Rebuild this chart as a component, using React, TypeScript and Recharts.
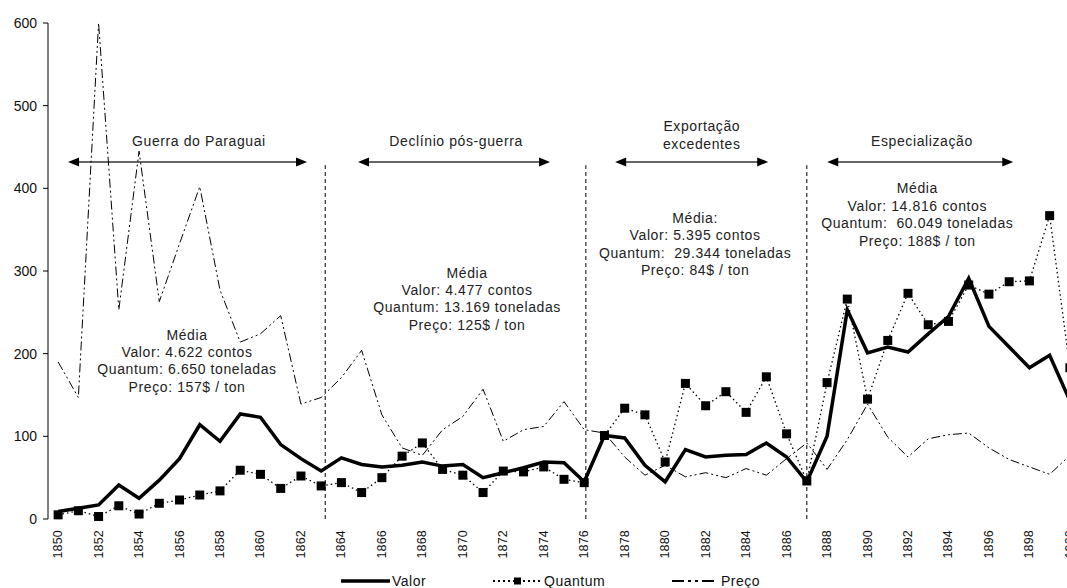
import React from "react";
import { LineChart, Line, XAxis, YAxis, ReferenceLine, ReferenceDot } from "recharts";

const FONT = '"Liberation Sans", Arial, Helvetica, sans-serif';

const years = [
  1850, 1851, 1852, 1853, 1854, 1855, 1856, 1857, 1858, 1859,
  1860, 1861, 1862, 1863, 1864, 1865, 1866, 1867, 1868, 1869,
  1870, 1871, 1872, 1873, 1874, 1875, 1876, 1877, 1878, 1879,
  1880, 1881, 1882, 1883, 1884, 1885, 1886, 1887, 1888, 1889,
  1890, 1891, 1892, 1893, 1894, 1895, 1896, 1897, 1898, 1899,
  1900,
];

const valor = [
  9, 13, 17, 41, 25, 47, 73, 114, 94, 127,
  123, 90, 73, 58, 74, 66, 63, 65, 69, 64,
  66, 50, 56, 62, 69, 68, 45, 101, 98, 65,
  45, 84, 75, 77, 78, 92, 75, 45, 100, 253,
  201, 208, 202, 224, 245, 291, 233, 208, 183, 198,
  143,
];

const quantum = [
  5, 10, 3, 16, 6, 19, 23, 29, 34, 59,
  54, 37, 52, 40, 44, 32, 50, 76, 92, 60,
  53, 32, 58, 57, 63, 48, 44, 101, 134, 126,
  69, 164, 137, 154, 129, 172, 103, 46, 165, 266,
  145, 216, 273, 235, 239, 283, 272, 287, 288, 367,
  183,
];

const preco = [
  190, 147, 600, 253, 445, 263, 333, 402, 277, 214,
  224, 246, 139, 147, 171, 204, 126, 86, 77, 108,
  124, 157, 94, 108, 112, 142, 108, 104, 75, 53,
  65, 51, 56, 50, 61, 53, 73, 92, 60, 96,
  139, 99, 75, 97, 102, 104, 86, 72, 63, 54,
  77,
];

const yTicks = [0, 100, 200, 300, 400, 500, 600];
const labelYears = years.filter((y) => y % 2 === 0);
const tickEdges = [...years.map((y) => y - 0.5), years[years.length - 1] + 0.5];

// period boundaries (year), drawn up to this value
const dividers = [1863.2, 1876.08, 1887];
const dividerTop = 428;

// period arrows and titles
const periodTitles = [
  ["Guerra do Paraguai"],
  ["Declínio pós-guerra"],
  ["Exportação", "excedentes"],
  ["Especialização"],
];
const periodArrows = [
  [1850.49, 1862.3],
  [1864.82, 1874.31],
  [1877.53, 1885.09],
  [1888.01, 1897.2],
];
const titleAnchors = [
  [1856.96, 457],
  [1869.67, 457],
  [1881.81, 475],
  [1892.69, 457],
];
const arrowLevel = 432;

const periodMeans = [
  ["Média", "Valor: 4.622 contos", "Quantum: 6.650 toneladas", "Preço: 157$ / ton"],
  ["Média", "Valor: 4.477 contos", "Quantum: 13.169 toneladas", "Preço: 125$ / ton"],
  ["Média:", "Valor: 5.395 contos", "Quantum:  29.344 toneladas", "Preço: 84$ / ton"],
  ["Média", "Valor: 14.816 contos", "Quantum:  60.049 toneladas", "Preço: 188$ / ton"],
];
const meanAnchors = [
  [1856.37, 223],
  [1870.21, 298],
  [1881.48, 364],
  [1892.46, 400],
];

const rows = years.map((year, i) => ({
  year,
  valor: valor[i],
  quantum: quantum[i],
  preco: preco[i],
}));

const PRECO_DASH = "9 3 2 3 2 3";

function YearTick(props: any) {
  const { x, y, payload } = props;
  return (
    <text
      x={0}
      y={0}
      transform={`translate(${x},${y + 11}) rotate(-90)`}
      textAnchor="end"
      dominantBaseline="central"
      fontSize={12.5}
      letterSpacing={0.2}
      fontFamily={FONT}
      fill="#111"
    >
      {payload.value}
    </text>
  );
}

function EmptyTick() {
  return <g />;
}

function SquareDot(props: any) {
  const { cx, cy, index } = props;
  if (cx == null || cy == null) return <g key={index} />;
  return <rect key={index} x={cx - 4.5} y={cy - 4.5} width={9} height={9} fill="#000" />;
}

function ArrowShape(props: any) {
  const { x1, y1, x2, y2 } = props;
  const len = 11;
  const hw = 4.5;
  return (
    <g>
      <line x1={x1 + len - 1} y1={y1} x2={x2 - len + 1} y2={y2} stroke="#333" strokeWidth={1.5} />
      <polygon points={`${x1},${y1} ${x1 + len},${y1 - hw} ${x1 + len},${y1 + hw}`} fill="#000" />
      <polygon points={`${x2},${y2} ${x2 - len},${y2 - hw} ${x2 - len},${y2 + hw}`} fill="#000" />
    </g>
  );
}

function textBlock(lines: string[]) {
  return (props: any) => {
    const vb = props.viewBox || {};
    const cx = vb.x + (vb.width || 0) / 2;
    const cy = vb.y + (vb.height || 0) / 2;
    return (
      <text
        textAnchor="middle"
        dominantBaseline="central"
        fontSize={14}
        fontFamily={FONT}
        letterSpacing={0.6}
        fill="#222"
        style={{ whiteSpace: "pre" }}
      >
        {lines.map((t, i) => (
          <tspan key={i} x={cx} y={cy + i * 17.4}>
            {t}
          </tspan>
        ))}
      </text>
    );
  };
}

function LegendBox() {
  const txt: React.CSSProperties = {
    fontFamily: FONT,
    fontSize: 14,
    letterSpacing: 0.5,
    color: "#111",
    lineHeight: "16px",
  };
  const item: React.CSSProperties = {
    position: "absolute",
    top: 573,
    display: "flex",
    alignItems: "center",
  };
  return (
    <>
      <div style={{ ...item, left: 341 }}>
        <svg width={49} height={12}>
          <line x1={0} y1={6} x2={49} y2={6} stroke="#000" strokeWidth={3.5} />
        </svg>
        <span style={{ ...txt, marginLeft: 2 }}>Valor</span>
      </div>
      <div style={{ ...item, left: 493 }}>
        <svg width={49} height={12}>
          <line x1={0} y1={6} x2={49} y2={6} stroke="#000" strokeWidth={2} strokeDasharray="2 3" />
          <rect x={21} y={2.5} width={7} height={7} fill="#000" />
        </svg>
        <span style={{ ...txt, marginLeft: 2 }}>Quantum</span>
      </div>
      <div style={{ ...item, left: 672 }}>
        <svg width={44} height={12}>
          <line x1={0} y1={6} x2={44} y2={6} stroke="#000" strokeWidth={2} strokeDasharray="12 4 3 4 3 4" />
        </svg>
        <span style={{ ...txt, marginLeft: 5 }}>Preço</span>
      </div>
    </>
  );
}

export default function App() {
  return (
    <div
      style={{
        position: "fixed",
        left: 0,
        top: 0,
        width: 1067,
        height: 588,
        overflow: "hidden",
        background: "#fff",
      }}
    >
      <LineChart width={1080} height={588} data={rows} margin={{ top: 23, right: 0, bottom: 29, left: 0 }}>
        <XAxis
          xAxisId="edge"
          type="number"
          dataKey="year"
          domain={[1849.5, 1900.5]}
          ticks={tickEdges}
          interval={0}
          height={0}
          tick={<EmptyTick />}
          tickSize={5}
          tickLine={{ stroke: "#000" }}
          axisLine={{ stroke: "#000" }}
          allowDataOverflow
        />
        <XAxis
          xAxisId="yr"
          type="number"
          dataKey="year"
          domain={[1849.5, 1900.5]}
          ticks={labelYears}
          interval={0}
          height={40}
          tick={<YearTick />}
          tickSize={0}
          tickMargin={0}
          tickLine={false}
          axisLine={false}
          allowDataOverflow
        />
        <YAxis
          domain={[0, 600]}
          ticks={yTicks}
          interval={0}
          width={48}
          tickSize={5}
          tickMargin={6}
          tickLine={{ stroke: "#000" }}
          axisLine={{ stroke: "#000" }}
          tick={{ fontSize: 14, fill: "#111", fontFamily: FONT }}
        />

        {dividers.map((d, i) => (
          <ReferenceLine
            key={`div${i}`}
            xAxisId="yr"
            segment={[
              { x: d, y: 0 },
              { x: d, y: dividerTop },
            ]}
            stroke="#000"
            strokeWidth={1}
            strokeDasharray="4 3"
          />
        ))}

        {periodArrows.map(([a, b], i) => (
          <ReferenceLine
            key={`arr${i}`}
            xAxisId="yr"
            segment={[
              { x: a, y: arrowLevel },
              { x: b, y: arrowLevel },
            ]}
            shape={ArrowShape}
          />
        ))}

        {periodTitles.map((lines, i) => (
          <ReferenceDot
            key={`title${i}`}
            xAxisId="yr"
            x={titleAnchors[i][0]}
            y={titleAnchors[i][1]}
            r={0}
            stroke="none"
            fill="none"
            label={{ content: textBlock(lines) }}
          />
        ))}

        {periodMeans.map((lines, i) => (
          <ReferenceDot
            key={`mean${i}`}
            xAxisId="yr"
            x={meanAnchors[i][0]}
            y={meanAnchors[i][1]}
            r={0}
            stroke="none"
            fill="none"
            label={{ content: textBlock(lines) }}
          />
        ))}

        <Line
          xAxisId="yr"
          type="linear"
          dataKey="preco"
          stroke="#000"
          strokeWidth={1}
          strokeDasharray={PRECO_DASH}
          dot={false}
          isAnimationActive={false}
        />
        <Line
          xAxisId="yr"
          type="linear"
          dataKey="quantum"
          stroke="#000"
          strokeWidth={1.3}
          strokeDasharray="1.5 3"
          dot={SquareDot}
          activeDot={false}
          isAnimationActive={false}
        />
        <Line
          xAxisId="yr"
          type="linear"
          dataKey="valor"
          stroke="#000"
          strokeWidth={3.5}
          strokeLinejoin="miter"
          dot={false}
          isAnimationActive={false}
        />
      </LineChart>
      <LegendBox />
    </div>
  );
}
